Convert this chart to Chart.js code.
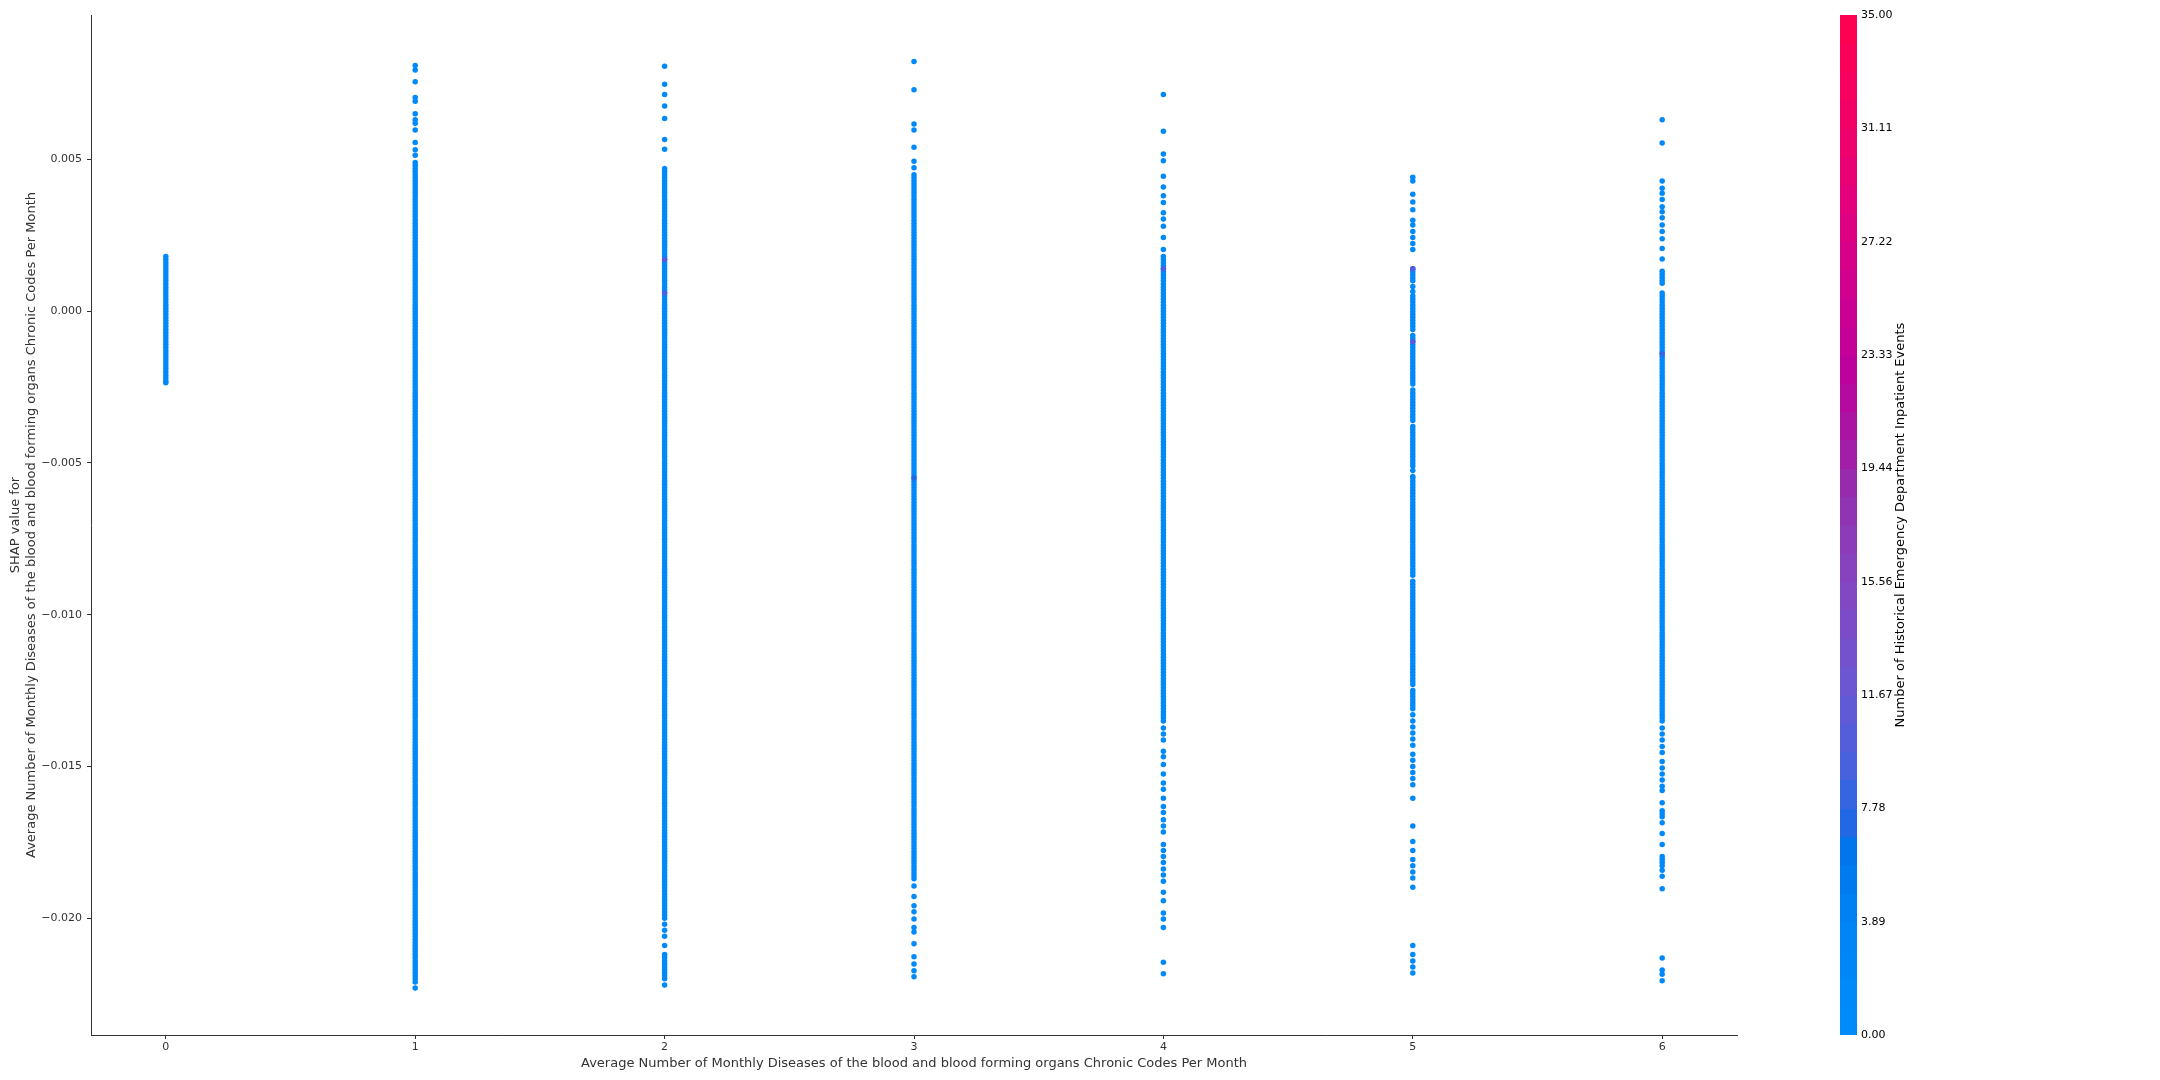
<!DOCTYPE html>
<html><head><meta charset="utf-8">
<script src="https://cdn.jsdelivr.net/npm/chart.js@4.4.1/dist/chart.umd.min.js"></script>
<style>html,body{margin:0;padding:0;background:#fff;}#wrap{width:2160px;height:1080px;}</style>
</head><body><div id="wrap"><canvas id="c" width="2160" height="1080"></canvas></div>
<script>
// ---------- data ----------
const xCategories = [0, 1, 2, 3, 4, 5, 6];
const xTickLabels = ['0', '1', '2', '3', '4', '5', '6'];
const yTicks = [-0.02, -0.015, -0.01, -0.005, 0, 0.005];
const yTickLabels = ['\u22120.020', '\u22120.015', '\u22120.010', '\u22120.005', '0.000', '0.005'];
const cbTicks = [0, 3.8889, 7.7778, 11.6667, 15.5556, 19.4444, 23.3333, 27.2222, 31.1111, 35];
const cbTickLabels = ['0.00', '3.89', '7.78', '11.67', '15.56', '19.44', '23.33', '27.22', '31.11', '35.00'];
const cbMin = 0, cbMax = 35;
const xTitle = 'Average Number of Monthly Diseases of the blood and blood forming organs Chronic Codes Per Month';
const yTitle = ['SHAP value for', 'Average Number of Monthly Diseases of the blood and blood forming organs Chronic Codes Per Month'];
const cbTitle = 'Number of Historical Emergency Department Inpatient Events';
const baseInteractionValue = 1;

const shap0 = [0.0018,0.0017,0.0016,0.0015,0.0014,0.0013,0.0012,0.0011,0.001,
0.0009,0.0008,0.0007,0.0006,0.0005,0.0004,0.0003,0.0002,0.0001,0,
-0.0001,-0.0002,-0.0003,-0.0004,-0.0005,-0.0006,-0.0007,-0.0008,-0.0009,-0.001,
-0.0011,-0.0012,-0.0013,-0.0014,-0.0015,-0.0016,-0.0017,-0.0018,-0.0019,-0.002,
-0.0021,-0.0022,-0.0023,-0.00236];

const shap1 = [0.0081,0.00795,0.00756,0.00704,0.00692,0.00651,0.00631,0.00619,0.00597,0.00556,0.00532,0.00514,
0.0049,0.0048,0.0047,0.0046,0.0045,0.0044,0.0043,0.0042,0.0041,0.004,
0.0039,0.0038,0.0037,0.0036,0.0035,0.0034,0.0033,0.0032,0.0031,0.003,
0.0029,0.0028,0.0027,0.0026,0.0025,0.0024,0.0023,0.0022,0.0021,0.002,
0.0019,0.0018,0.0017,0.0016,0.0015,0.0014,0.0013,0.0012,0.0011,0.001,
0.0009,0.0008,0.0007,0.0006,0.0005,0.0004,0.0003,0.0002,0.0001,0,
-0.0001,-0.0002,-0.0003,-0.0004,-0.0005,-0.0006,-0.0007,-0.0008,-0.0009,-0.001,
-0.0011,-0.0012,-0.0013,-0.0014,-0.0015,-0.0016,-0.0017,-0.0018,-0.0019,-0.002,
-0.0021,-0.0022,-0.0023,-0.0024,-0.0025,-0.0026,-0.0027,-0.0028,-0.0029,-0.003,
-0.0031,-0.0032,-0.0033,-0.0034,-0.0035,-0.0036,-0.0037,-0.0038,-0.0039,-0.004,
-0.0041,-0.0042,-0.0043,-0.0044,-0.0045,-0.0046,-0.0047,-0.0048,-0.0049,-0.005,
-0.0051,-0.0052,-0.0053,-0.0054,-0.0055,-0.0056,-0.0057,-0.0058,-0.0059,-0.006,
-0.0061,-0.0062,-0.0063,-0.0064,-0.0065,-0.0066,-0.0067,-0.0068,-0.0069,-0.007,
-0.0071,-0.0072,-0.0073,-0.0074,-0.0075,-0.0076,-0.0077,-0.0078,-0.0079,-0.008,
-0.0081,-0.0082,-0.0083,-0.0084,-0.0085,-0.0086,-0.0087,-0.0088,-0.0089,-0.009,
-0.0091,-0.0092,-0.0093,-0.0094,-0.0095,-0.0096,-0.0097,-0.0098,-0.0099,-0.01,
-0.0101,-0.0102,-0.0103,-0.0104,-0.0105,-0.0106,-0.0107,-0.0108,-0.0109,-0.011,
-0.0111,-0.0112,-0.0113,-0.0114,-0.0115,-0.0116,-0.0117,-0.0118,-0.0119,-0.012,
-0.0121,-0.0122,-0.0123,-0.0124,-0.0125,-0.0126,-0.0127,-0.0128,-0.0129,-0.013,
-0.0131,-0.0132,-0.0133,-0.0134,-0.0135,-0.0136,-0.0137,-0.0138,-0.0139,-0.014,
-0.0141,-0.0142,-0.0143,-0.0144,-0.0145,-0.0146,-0.0147,-0.0148,-0.0149,-0.015,
-0.0151,-0.0152,-0.0153,-0.0154,-0.0155,-0.0156,-0.0157,-0.0158,-0.0159,-0.016,
-0.0161,-0.0162,-0.0163,-0.0164,-0.0165,-0.0166,-0.0167,-0.0168,-0.0169,-0.017,
-0.0171,-0.0172,-0.0173,-0.0174,-0.0175,-0.0176,-0.0177,-0.0178,-0.0179,-0.018,
-0.0181,-0.0182,-0.0183,-0.0184,-0.0185,-0.0186,-0.0187,-0.0188,-0.0189,-0.019,
-0.0191,-0.0192,-0.0193,-0.0194,-0.0195,-0.0196,-0.0197,-0.0198,-0.0199,-0.02,
-0.0201,-0.0202,-0.0203,-0.0204,-0.0205,-0.0206,-0.0207,-0.0208,-0.0209,-0.021,
-0.0211,-0.0212,-0.0213,-0.0214,-0.0215,-0.0216,-0.0217,-0.0218,-0.0219,-0.022,
-0.0221,-0.0223];

const shap2 = [0.00807,0.00748,0.00714,0.00676,0.00635,0.00566,0.00534,
0.0047,0.0046,0.0045,0.0044,0.0043,0.0042,0.0041,0.004,
0.0039,0.0038,0.0037,0.0036,0.0035,0.0034,0.0033,0.0032,0.0031,0.003,
0.0029,0.0028,0.0027,0.0026,0.0025,0.0024,0.0023,0.0022,0.0021,0.002,
0.0019,0.0018,0.0017,0.0016,0.0015,0.0014,0.0013,0.0012,0.0011,0.001,
0.0009,0.0008,0.0007,0.0006,0.0005,0.0004,0.0003,0.0002,0.0001,0,
-0.0001,-0.0002,-0.0003,-0.0004,-0.0005,-0.0006,-0.0007,-0.0008,-0.0009,-0.001,
-0.0011,-0.0012,-0.0013,-0.0014,-0.0015,-0.0016,-0.0017,-0.0018,-0.0019,-0.002,
-0.0021,-0.0022,-0.0023,-0.0024,-0.0025,-0.0026,-0.0027,-0.0028,-0.0029,-0.003,
-0.0031,-0.0032,-0.0033,-0.0034,-0.0035,-0.0036,-0.0037,-0.0038,-0.0039,-0.004,
-0.0041,-0.0042,-0.0043,-0.0044,-0.0045,-0.0046,-0.0047,-0.0048,-0.0049,-0.005,
-0.0051,-0.0052,-0.0053,-0.0054,-0.0055,-0.0056,-0.0057,-0.0058,-0.0059,-0.006,
-0.0061,-0.0062,-0.0063,-0.0064,-0.0065,-0.0066,-0.0067,-0.0068,-0.0069,-0.007,
-0.0071,-0.0072,-0.0073,-0.0074,-0.0075,-0.0076,-0.0077,-0.0078,-0.0079,-0.008,
-0.0081,-0.0082,-0.0083,-0.0084,-0.0085,-0.0086,-0.0087,-0.0088,-0.0089,-0.009,
-0.0091,-0.0092,-0.0093,-0.0094,-0.0095,-0.0096,-0.0097,-0.0098,-0.0099,-0.01,
-0.0101,-0.0102,-0.0103,-0.0104,-0.0105,-0.0106,-0.0107,-0.0108,-0.0109,-0.011,
-0.0111,-0.0112,-0.0113,-0.0114,-0.0115,-0.0116,-0.0117,-0.0118,-0.0119,-0.012,
-0.0121,-0.0122,-0.0123,-0.0124,-0.0125,-0.0126,-0.0127,-0.0128,-0.0129,-0.013,
-0.0131,-0.0132,-0.0133,-0.0134,-0.0135,-0.0136,-0.0137,-0.0138,-0.0139,-0.014,
-0.0141,-0.0142,-0.0143,-0.0144,-0.0145,-0.0146,-0.0147,-0.0148,-0.0149,-0.015,
-0.0151,-0.0152,-0.0153,-0.0154,-0.0155,-0.0156,-0.0157,-0.0158,-0.0159,-0.016,
-0.0161,-0.0162,-0.0163,-0.0164,-0.0165,-0.0166,-0.0167,-0.0168,-0.0169,-0.017,
-0.0171,-0.0172,-0.0173,-0.0174,-0.0175,-0.0176,-0.0177,-0.0178,-0.0179,-0.018,
-0.0181,-0.0182,-0.0183,-0.0184,-0.0185,-0.0186,-0.0187,-0.0188,-0.0189,-0.019,
-0.0191,-0.0192,-0.0193,-0.0194,-0.0195,-0.0196,-0.0197,-0.0198,-0.0199,-0.02,
-0.0202,-0.0204,-0.0206,-0.0209,
-0.0212,-0.0213,-0.0214,-0.0215,-0.0216,-0.0217,-0.0218,-0.0219,-0.022,-0.0222];

const shap3 = [0.00823,0.0073,0.00617,0.00597,0.0054,0.00494,0.00473,
0.0045,0.0044,0.0043,0.0042,0.0041,0.004,
0.0039,0.0038,0.0037,0.0036,0.0035,0.0034,0.0033,0.0032,0.0031,0.003,
0.0029,0.0028,0.0027,0.0026,0.0025,0.0024,0.0023,0.0022,0.0021,0.002,
0.0019,0.0018,0.0017,0.0016,0.0015,0.0014,0.0013,0.0012,0.0011,0.001,
0.0009,0.0008,0.0007,0.0006,0.0005,0.0004,0.0003,0.0002,0.0001,0,
-0.0001,-0.0002,-0.0003,-0.0004,-0.0005,-0.0006,-0.0007,-0.0008,-0.0009,-0.001,
-0.0011,-0.0012,-0.0013,-0.0014,-0.0015,-0.0016,-0.0017,-0.0018,-0.0019,-0.002,
-0.0021,-0.0022,-0.0023,-0.0024,-0.0025,-0.0026,-0.0027,-0.0028,-0.0029,-0.003,
-0.0031,-0.0032,-0.0033,-0.0034,-0.0035,-0.0036,-0.0037,-0.0038,-0.0039,-0.004,
-0.0041,-0.0042,-0.0043,-0.0044,-0.0045,-0.0046,-0.0047,-0.0048,-0.0049,-0.005,
-0.0051,-0.0052,-0.0053,-0.0054,-0.0055,-0.0056,-0.0057,-0.0058,-0.0059,-0.006,
-0.0061,-0.0062,-0.0063,-0.0064,-0.0065,-0.0066,-0.0067,-0.0068,-0.0069,-0.007,
-0.0071,-0.0072,-0.0073,-0.0074,-0.0075,-0.0076,-0.0077,-0.0078,-0.0079,-0.008,
-0.0081,-0.0082,-0.0083,-0.0084,-0.0085,-0.0086,-0.0087,-0.0088,-0.0089,-0.009,
-0.0091,-0.0092,-0.0093,-0.0094,-0.0095,-0.0096,-0.0097,-0.0098,-0.0099,-0.01,
-0.0101,-0.0102,-0.0103,-0.0104,-0.0105,-0.0106,-0.0107,-0.0108,-0.0109,-0.011,
-0.0111,-0.0112,-0.0113,-0.0114,-0.0115,-0.0116,-0.0117,-0.0118,-0.0119,-0.012,
-0.0121,-0.0122,-0.0123,-0.0124,-0.0125,-0.0126,-0.0127,-0.0128,-0.0129,-0.013,
-0.0131,-0.0132,-0.0133,-0.0134,-0.0135,-0.0136,-0.0137,-0.0138,-0.0139,-0.014,
-0.0141,-0.0142,-0.0143,-0.0144,-0.0145,-0.0146,-0.0147,-0.0148,-0.0149,-0.015,
-0.0151,-0.0152,-0.0153,-0.0154,-0.0155,-0.0156,-0.0157,-0.0158,-0.0159,-0.016,
-0.0161,-0.0162,-0.0163,-0.0164,-0.0165,-0.0166,-0.0167,-0.0168,-0.0169,-0.017,
-0.0171,-0.0172,-0.0173,-0.0174,-0.0175,-0.0176,-0.0177,-0.0178,-0.0179,-0.018,
-0.0181,-0.0182,-0.0183,-0.0184,-0.0185,-0.0186,-0.0187,
-0.01894,-0.01929,-0.01959,-0.01979,-0.02003,-0.02031,-0.02046,-0.02084,-0.02127,-0.02151,-0.02173,-0.02193];

const shap4 = [0.00714,0.00593,0.00518,0.00496,0.00445,0.00409,0.0038,0.00358,0.00324,0.00304,0.0028,0.00243,0.00203,
0.0018,0.0017,0.0016,0.0015,0.0014,0.0013,0.0012,0.0011,0.001,
0.0009,0.0008,0.0007,0.0006,0.0005,0.0004,0.0003,0.0002,0.0001,0,
-0.0001,-0.0002,-0.0003,-0.0004,-0.0005,-0.0006,-0.0007,-0.0008,-0.0009,-0.001,
-0.0011,-0.0012,-0.0013,-0.0014,-0.0015,-0.0016,-0.0017,-0.0018,-0.0019,-0.002,
-0.0021,-0.0022,-0.0023,-0.0024,-0.0025,-0.0026,-0.0027,-0.0028,-0.0029,-0.003,
-0.0031,-0.0032,-0.0033,-0.0034,-0.0035,-0.0036,-0.0037,-0.0038,-0.0039,-0.004,
-0.0041,-0.0042,-0.0043,-0.0044,-0.0045,-0.0046,-0.0047,-0.0048,-0.0049,-0.005,
-0.0051,-0.0052,-0.0053,-0.0054,-0.0055,-0.0056,-0.0057,-0.0058,-0.0059,-0.006,
-0.0061,-0.0062,-0.0063,-0.0064,-0.0065,-0.0066,-0.0067,-0.0068,-0.0069,-0.007,
-0.0071,-0.0072,-0.0073,-0.0074,-0.0075,-0.0076,-0.0077,-0.0078,-0.0079,-0.008,
-0.0081,-0.0082,-0.0083,-0.0084,-0.0085,-0.0086,-0.0087,-0.0088,-0.0089,-0.009,
-0.0091,-0.0092,-0.0093,-0.0094,-0.0095,-0.0096,-0.0097,-0.0098,-0.0099,-0.01,
-0.0101,-0.0102,-0.0103,-0.0104,-0.0105,-0.0106,-0.0107,-0.0108,-0.0109,-0.011,
-0.0111,-0.0112,-0.0113,-0.0114,-0.0115,-0.0116,-0.0117,-0.0118,-0.0119,-0.012,
-0.0121,-0.0122,-0.0123,-0.0124,-0.0125,-0.0126,-0.0127,-0.0128,-0.0129,-0.013,
-0.0131,-0.0132,-0.0133,-0.0134,-0.0135,
-0.01373,-0.01393,-0.01413,-0.0145,-0.01468,-0.01494,-0.01525,-0.01555,-0.01575,-0.01605,-0.01632,-0.01652,-0.01676,-0.01696,-0.01716,-0.01757,-0.01777,-0.01797,-0.01817,-0.01838,-0.01858,-0.01878,
-0.01915,-0.01943,-0.01983,-0.02003,-0.02031,-0.02145,-0.02183];

const shap5 = [0.00441,0.00429,0.00385,0.0036,0.00334,0.003,0.00284,0.00263,0.00243,0.00223,0.00203,
0.0014,0.0013,0.0012,0.0011,0.001,0.00081,
0.00065,0.0005,0.0004,0.0003,0.0002,0.0001,0,-0.0001,-0.0002,-0.0003,-0.0004,-0.0005,-0.0006,
-0.0008,-0.0009,-0.001,-0.0011,-0.0012,-0.0013,-0.0014,-0.0015,-0.0016,-0.0017,-0.0018,-0.0019,-0.002,-0.0021,-0.0022,-0.0023,-0.0024,
-0.0026,-0.0027,-0.0028,-0.0029,-0.003,-0.0031,-0.0032,-0.0033,-0.0034,-0.0035,-0.0036,
-0.0038,-0.0039,-0.004,-0.0041,-0.0042,-0.0043,-0.0044,-0.0045,-0.0046,-0.0047,-0.0048,-0.0049,-0.005,-0.0051,-0.00525,
-0.00545,-0.0055,-0.0056,-0.0057,-0.0058,-0.0059,-0.006,-0.0061,-0.0062,-0.0063,-0.0064,-0.0065,-0.0066,-0.0067,-0.0068,-0.0069,-0.007,
-0.0071,-0.0072,-0.0073,-0.0074,-0.0075,-0.0076,-0.0077,-0.0078,-0.0079,-0.008,-0.0081,-0.0082,-0.0083,-0.0084,-0.0085,-0.0086,-0.0087,
-0.0089,-0.009,-0.0091,-0.0092,-0.0093,-0.0094,-0.0095,-0.0096,-0.0097,-0.0098,-0.0099,-0.01,
-0.0101,-0.0102,-0.0103,-0.0104,-0.0105,-0.0106,-0.0107,-0.0108,-0.0109,-0.011,
-0.0111,-0.0112,-0.0113,-0.0114,-0.0115,-0.0116,-0.0117,-0.0118,-0.0119,-0.012,-0.0121,-0.0122,-0.0123,
-0.0125,-0.0126,-0.0127,-0.0128,-0.0129,-0.013,-0.0131,-0.0133,
-0.0135,-0.0137,-0.0139,-0.0141,-0.0143,
-0.0146,-0.0148,-0.015,-0.0152,-0.0154,-0.0156,
-0.01605,-0.01696,-0.01747,-0.01777,-0.01807,-0.01827,-0.01848,-0.01868,-0.01898,-0.0209,-0.0212,-0.02141,-0.02161,-0.02181];

const shap6 = [0.00631,0.00554,0.00429,0.00405,0.00389,0.00368,0.00344,0.00328,0.00308,0.00284,0.00263,0.00239,0.00207,0.00172,0.00132,0.00122,0.00112,0.00102,0.00092,
0.0006,0.0005,0.0004,0.0003,0.0002,0.0001,0,
-0.0001,-0.0002,-0.0003,-0.0004,-0.0005,-0.0006,-0.0007,-0.0008,-0.0009,-0.001,
-0.0011,-0.0012,-0.0013,-0.0014,-0.0015,-0.0016,-0.0017,-0.0018,-0.0019,-0.002,
-0.0021,-0.0022,-0.0023,-0.0024,-0.0025,-0.0026,-0.0027,-0.0028,-0.0029,-0.003,
-0.0031,-0.0032,-0.0033,-0.0034,-0.0035,-0.0036,-0.0037,-0.0038,-0.0039,-0.004,
-0.0041,-0.0042,-0.0043,-0.0044,-0.0045,-0.0046,-0.0047,-0.0048,-0.0049,-0.005,
-0.0051,-0.0052,-0.0053,-0.0054,-0.0055,-0.0056,-0.0057,-0.0058,-0.0059,-0.006,
-0.0061,-0.0062,-0.0063,-0.0064,-0.0065,-0.0066,-0.0067,-0.0068,-0.0069,-0.007,
-0.0071,-0.0072,-0.0073,-0.0074,-0.0075,-0.0076,-0.0077,-0.0078,-0.0079,-0.008,
-0.0081,-0.0082,-0.0083,-0.0084,-0.0085,-0.0086,-0.0087,-0.0088,-0.0089,-0.009,
-0.0091,-0.0092,-0.0093,-0.0094,-0.0095,-0.0096,-0.0097,-0.0098,-0.0099,-0.01,
-0.0101,-0.0102,-0.0103,-0.0104,-0.0105,-0.0106,-0.0107,-0.0108,-0.0109,-0.011,
-0.0111,-0.0112,-0.0113,-0.0114,-0.0115,-0.0116,-0.0117,-0.0118,-0.0119,-0.012,
-0.0121,-0.0122,-0.0123,-0.0124,-0.0125,-0.0126,-0.0127,-0.0128,-0.0129,-0.013,
-0.0131,-0.0132,-0.0133,-0.0134,-0.0135,
-0.01373,-0.01393,-0.01413,-0.01434,-0.01454,-0.01484,-0.01505,-0.01525,-0.01545,-0.01565,-0.01579,-0.0162,-0.01646,-0.01656,-0.01666,-0.01686,-0.01721,-0.01757,-0.01797,-0.01807,-0.01817,-0.01827,-0.01842,-0.01862,-0.01903,-0.02131,-0.02171,-0.02185,-0.02206];

const shapByCategory = [shap0, shap1, shap2, shap3, shap4, shap5, shap6];

// a few points with somewhat higher interaction values (slight purple tint)
const highlightX = [2, 2, 3, 4, 5, 5, 6];
const highlightY = [0.0017, 0.0006, -0.0055, 0.0014, 0.0014, -0.001, -0.0014];
const highlightValue = [10, 9, 7, 9, 10, 10, 8];

// ---------- colormap (shap red_blue, approximated) ----------
const cmapStops = [
  [0.00, [0, 139, 250]], [0.10, [0, 132, 245]], [0.17, [0, 118, 236]], [0.20, [34, 104, 228]],
  [0.26, [74, 98, 222]], [0.33, [104, 88, 212]], [0.40, [124, 76, 200]], [0.47, [138, 64, 188]],
  [0.53, [148, 48, 176]], [0.59, [168, 22, 164]], [0.66, [190, 0, 156]], [0.74, [208, 0, 144]],
  [0.83, [228, 0, 124]], [0.92, [244, 0, 100]], [1.00, [255, 0, 82]]
];
function cmap(t) {
  t = Math.max(0, Math.min(1, t));
  for (let k = 1; k < cmapStops.length; k++) {
    if (t <= cmapStops[k][0]) {
      const [t0, c0] = cmapStops[k - 1], [t1, c1] = cmapStops[k];
      const f = (t - t0) / (t1 - t0);
      const c = c0.map((v, j) => Math.round(v + (c1[j] - v) * f));
      return `rgb(${c[0]},${c[1]},${c[2]})`;
    }
  }
  return 'rgb(255,0,82)';
}
const norm = v => (v - cbMin) / (cbMax - cbMin);

// ---------- build datasets ----------
const mainPoints = [];
shapByCategory.forEach((arr, i) => arr.forEach(v => mainPoints.push({ x: xCategories[i], y: v })));
const hlPoints = highlightX.map((x, i) => ({ x: x, y: highlightY[i] }));

Chart.defaults.font.family = '"DejaVu Sans", sans-serif';

const colorbarPlugin = {
  id: 'colorbar',
  afterDraw(chart) {
    const s = chart.scales.c, ctx = chart.ctx;
    const x0 = s.left + 103, w = 17, nb = 36;
    for (let i = 0; i < nb; i++) {
      const v0 = cbMin + (cbMax - cbMin) * i / nb;
      const v1 = cbMin + (cbMax - cbMin) * (i + 1) / nb;
      const ya = s.getPixelForValue(v1), yb = s.getPixelForValue(v0);
      ctx.fillStyle = cmap(i / (nb - 1));
      ctx.fillRect(x0, Math.floor(ya), w, Math.ceil(yb) - Math.floor(ya));
    }
    ctx.save();
    ctx.translate(s.left + 164, (s.top + s.bottom) / 2);
    ctx.rotate(-Math.PI / 2);
    ctx.font = '13px "DejaVu Sans"';
    ctx.fillStyle = '#000';
    ctx.textAlign = 'center';
    ctx.textBaseline = 'middle';
    ctx.fillText(cbTitle, 0, 0);
    ctx.restore();
  }
};

new Chart(document.getElementById('c'), {
  type: 'scatter',
  data: {
    datasets: [
      { data: hlPoints, pointRadius: 2.75, pointHoverRadius: 2.75, borderWidth: 0,
        pointBackgroundColor: highlightValue.map(v => cmap(norm(v))) },
      { data: mainPoints, pointRadius: 2.75, pointHoverRadius: 2.75, borderWidth: 0,
        pointBackgroundColor: cmap(norm(baseInteractionValue)) }
    ]
  },
  options: {
    responsive: false,
    animation: false,
    devicePixelRatio: 1,
    events: [],
    layout: { padding: { top: 15, left: 0, right: 0, bottom: 0 } },
    plugins: { legend: { display: false }, tooltip: { enabled: false } },
    scales: {
      x: {
        type: 'linear', position: 'bottom', min: -0.3, max: 6.3,
        afterBuildTicks: s => { s.ticks = xCategories.map(v => ({ value: v })); },
        afterFit: s => { s.height = 45; },
        ticks: { callback: (v, i) => xTickLabels[i], color: '#333', font: { size: 11 }, padding: 2, maxRotation: 0, autoSkip: false },
        grid: { drawOnChartArea: false, drawTicks: true, tickLength: 4, color: '#333' },
        border: { display: true, color: '#333', width: 1 },
        title: { display: true, text: xTitle, color: '#333', font: { size: 13 }, padding: { top: 0, bottom: 9 } }
      },
      y: {
        type: 'linear', position: 'left', min: -0.02385, max: 0.00976,
        afterBuildTicks: s => { s.ticks = yTicks.map(v => ({ value: v })); },
        afterFit: s => { s.width = 91; },
        ticks: { callback: (v, i) => yTickLabels[i], color: '#333', font: { size: 11 }, padding: 5, autoSkip: false },
        grid: { drawOnChartArea: false, drawTicks: true, tickLength: 4, color: '#333' },
        border: { display: true, color: '#333', width: 1 },
        title: { display: true, text: yTitle, color: '#333', font: { size: 13 }, padding: { top: 8, bottom: 0 } }
      },
      c: {
        type: 'linear', position: 'right', min: cbMin, max: cbMax,
        afterBuildTicks: s => { s.ticks = cbTicks.map(v => ({ value: v })); },
        afterFit: s => { s.width = 423; s.paddingTop = 0; s.paddingBottom = 0; },
        ticks: { callback: (v, i) => cbTickLabels[i], color: '#000', font: { size: 11 }, padding: 124, autoSkip: false },
        grid: { display: false, drawTicks: false, drawOnChartArea: false },
        border: { display: false }
      }
    }
  },
  plugins: [colorbarPlugin]
});
</script></body></html>
